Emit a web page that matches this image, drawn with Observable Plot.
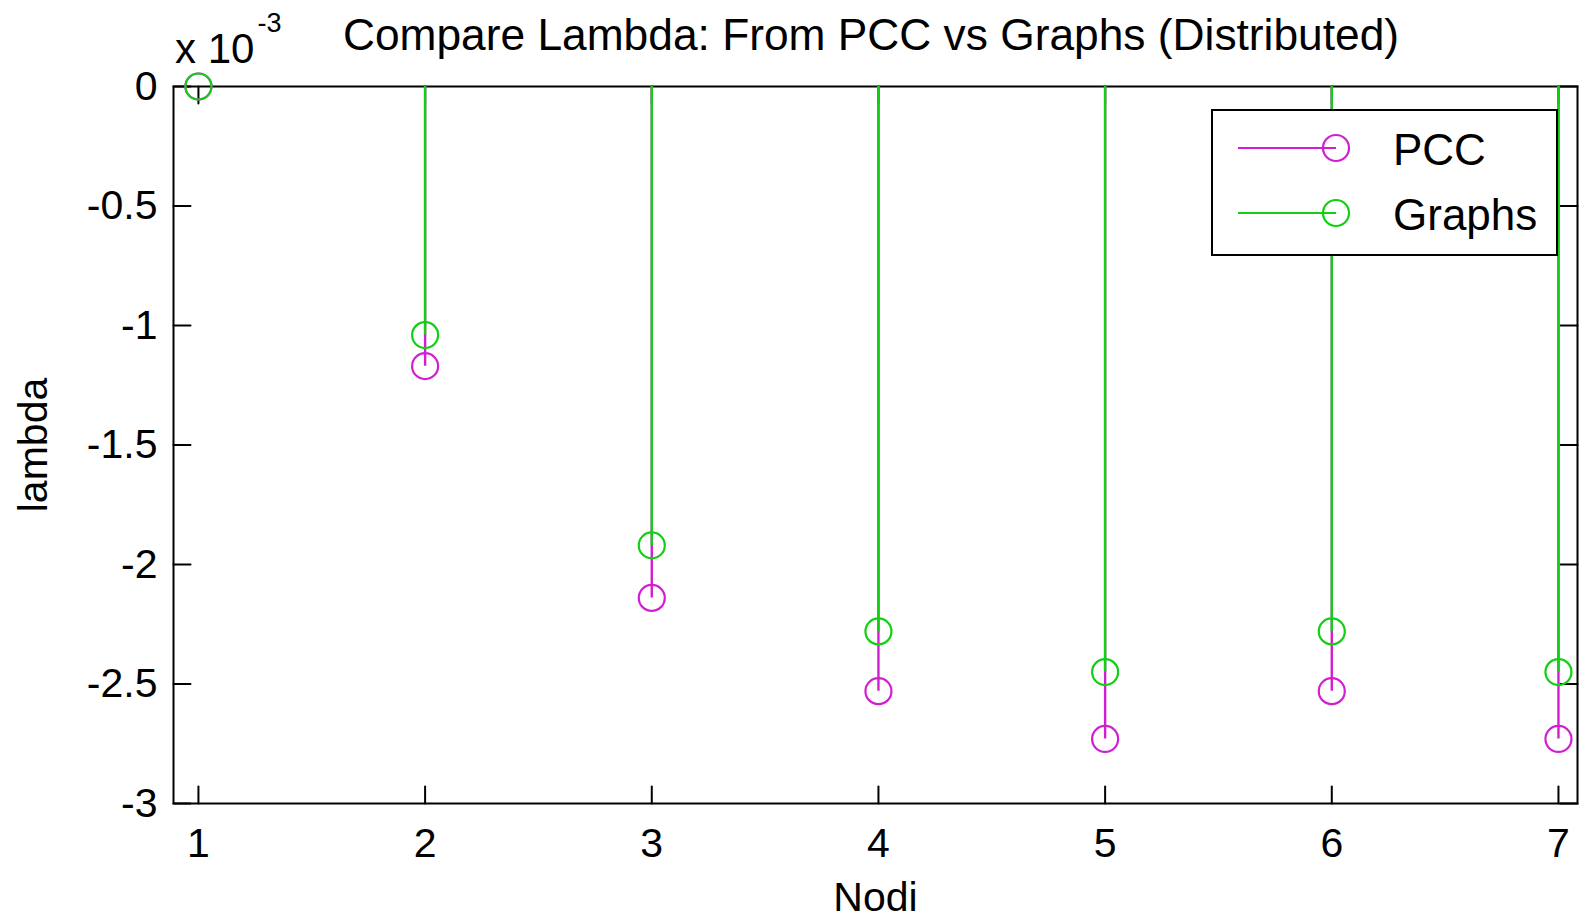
<!DOCTYPE html>
<html><head><meta charset="utf-8">
<script src="https://cdn.jsdelivr.net/npm/d3@7"></script>
<script src="https://cdn.jsdelivr.net/npm/@observablehq/plot@0.6"></script>
<style>
body{margin:0;background:#fff;}
#wrap{position:relative;width:1580px;height:922px;}
</style></head><body><div id="wrap"></div>
<script>
// Values are in units of 10^-3
const nodi = [1, 2, 3, 4, 5, 6, 7];
const pcc = [0, -1.17, -2.14, -2.53, -2.73, -2.53, -2.73];
const graphs = [0, -1.04, -1.92, -2.28, -2.45, -2.28, -2.45];
const xTicks = [1, 2, 3, 4, 5, 6, 7];
const yTicks = [0, -0.5, -1, -1.5, -2, -2.5, -3];
const seriesNames = ["PCC", "Graphs"];
const seriesColors = ["#d21ed2", "#11d011"];
const exponentText = "-3";
const titleText = "Compare Lambda: From PCC vs Graphs (Distributed)";
const xLabel = "Nodi";
const yLabel = "lambda";

const FONT = "'Liberation Sans', Arial, sans-serif";
const rows = (vals, name) => nodi.map((n, i) => ({nodo: n, value: vals[i], base: 0, series: name}));
const pccRows = rows(pcc, seriesNames[0]);
const graphRows = rows(graphs, seriesNames[1]);

const tickShape = {draw(ctx, l) { ctx.moveTo(0, 0); ctx.lineTo(0, -l); }};
const tickOpts = {length: 17, anchor: "start", shape: tickShape, stroke: "black", strokeWidth: 2};

const chart = Plot.plot({
  width: 1580, height: 922,
  marginLeft: 173, marginRight: 3, marginTop: 86, marginBottom: 119,
  style: {fontFamily: FONT, color: "#000", background: "#fff", overflow: "visible"},
  x: {domain: [0.89, 7.084]},
  y: {domain: [-3, 0]},
  marks: [
    Plot.axisX(xTicks, {tickSize: 0, tickPadding: 24, fontSize: 41, tickFormat: d => String(d),
      label: xLabel, labelAnchor: "center", labelArrow: "none", labelOffset: 107}),
    Plot.axisY(yTicks, {tickSize: 0, tickPadding: 16, fontSize: 41, tickFormat: d => String(d),
      label: yLabel, labelAnchor: "center", labelArrow: "none", labelOffset: 156}),
    Plot.vector(xTicks, {x: d => d, frameAnchor: "bottom", rotate: 0, ...tickOpts}),
    Plot.vector(xTicks, {x: d => d, frameAnchor: "top", rotate: 180, ...tickOpts}),
    Plot.vector(yTicks, {y: d => d, frameAnchor: "left", rotate: 90, ...tickOpts}),
    Plot.vector(yTicks, {y: d => d, frameAnchor: "right", rotate: -90, ...tickOpts}),
    Plot.frame({stroke: "black", strokeWidth: 2}),
    Plot.ruleX(pccRows, {x: "nodo", y1: "base", y2: "value", stroke: seriesColors[0], strokeWidth: 2.4}),
    Plot.dot(pccRows, {x: "nodo", y: "value", r: 13, stroke: seriesColors[0], strokeWidth: 2.2, fill: "none"}),
    Plot.ruleX(graphRows, {x: "nodo", y1: "base", y2: "value", stroke: seriesColors[1], strokeWidth: 2.4}),
    Plot.dot(graphRows, {x: "nodo", y: "value", r: 13, stroke: seriesColors[1], strokeWidth: 2.2, fill: "none"})
  ]
});
document.getElementById("wrap").appendChild(chart);

const svg = d3.select(chart);
// Title
svg.append("text").attr("x", 871).attr("y", 50).attr("text-anchor", "middle")
  .attr("font-family", FONT).attr("font-size", 44.3).attr("fill", "#000").text(titleText);
// Exponent label
const ex = svg.append("text").attr("x", 175).attr("y", 63).attr("text-anchor", "start")
  .attr("font-family", FONT).attr("font-size", 42).attr("fill", "#000");
ex.append("tspan").text("x 10");
ex.append("tspan").attr("font-size", 27).attr("dy", -31).attr("dx", 3).text(exponentText);

// Legend
const lg = svg.append("g").attr("text-anchor", "start");
lg.append("rect").attr("x", 1212).attr("y", 110).attr("width", 345).attr("height", 145)
  .attr("fill", "#fff").attr("stroke", "#000").attr("stroke-width", 2);
seriesNames.forEach((name, i) => {
  const y = 148 + i * 65;
  lg.append("line").attr("x1", 1238).attr("x2", 1336).attr("y1", y).attr("y2", y)
    .attr("stroke", seriesColors[i]).attr("stroke-width", 2.2);
  lg.append("circle").attr("cx", 1336).attr("cy", y).attr("r", 13)
    .attr("fill", "none").attr("stroke", seriesColors[i]).attr("stroke-width", 2.2);
  lg.append("text").attr("x", 1393).attr("y", y + 17).attr("text-anchor", "start")
    .attr("font-family", FONT).attr("font-size", 44).attr("fill", "#000").text(name);
});
</script></body></html>
